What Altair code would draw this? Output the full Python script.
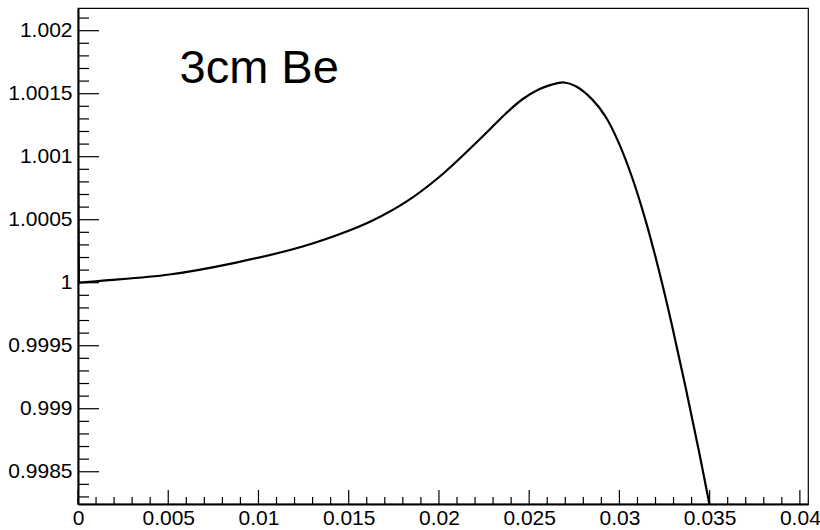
import altair as alt
import pandas as pd

# Curve data
x_vals = [0.0, 0.00005, 0.001373, 0.005066, 0.008760, 0.012447, 0.015033, 0.016323,
          0.018172, 0.020016, 0.021860, 0.022785, 0.023709, 0.024629, 0.025553,
          0.026201, 0.026937, 0.027585, 0.028504, 0.029246, 0.029983, 0.030719,
          0.031461, 0.032198, 0.032934, 0.033676, 0.034413, 0.035149]
y_vals = [1.000863, 1.000000, 1.000016, 1.000065, 1.000160, 1.000287, 1.000414, 1.000493,
          1.000641, 1.000839, 1.001083, 1.001212, 1.001343, 1.001456, 1.001535,
          1.001570, 1.001589, 1.001559, 1.001453, 1.001315, 1.001104, 1.000829,
          1.000489, 1.000093, 0.999649, 0.999165, 0.998659, 0.998124]

x_major = [0, 0.005, 0.01, 0.015, 0.02, 0.025, 0.03, 0.035, 0.04]
x_minor = [i / 1000 for i in range(0, 41) if i % 5 != 0]
y_major = [0.9985, 0.999, 0.9995, 1.0, 1.0005, 1.001, 1.0015, 1.002]
y_minor = [0.9983, 0.9984, 0.9986, 0.9987, 0.9988, 0.9989, 0.9991, 0.9992, 0.9993, 0.9994,
           0.9996, 0.9997, 0.9998, 0.9999, 1.0001, 1.0002, 1.0003, 1.0004, 1.0006, 1.0007,
           1.0008, 1.0009, 1.0011, 1.0012, 1.0013, 1.0014, 1.0016, 1.0017, 1.0018, 1.0019,
           1.0021]
annotation = "3cm Be"

X_DOMAIN = [0, 0.04045]
Y_DOMAIN = [0.998244, 1.00218]
W, H = 730, 496
FONT = "Liberation Sans"

xs = alt.Scale(domain=X_DOMAIN, nice=False, zero=False)
ys = alt.Scale(domain=Y_DOMAIN, nice=False, zero=False)

curve_df = pd.DataFrame({"x": x_vals, "y": y_vals})

x_axis = alt.Axis(
    values=x_major, format="~g", title=None, ticks=False, grid=False,
    domainColor="black", domainWidth=2, labelFont=FONT, labelFontSize=21,
    labelColor="black", labelPadding=3, labelFlush=False, labelOverlap=False)
y_axis = alt.Axis(
    values=y_major, format="~g", title=None, ticks=False, grid=False,
    domainColor="black", domainWidth=2, labelFont=FONT, labelFontSize=21,
    labelColor="black", labelPadding=6, labelFlush=False, labelOverlap=False)

# initial spike at x = 0 (straight segment)
spike = alt.Chart(curve_df.iloc[:2]).mark_line(
    color="black", strokeWidth=2.2, clip=True
).encode(x=alt.X("x:Q", scale=xs, axis=x_axis), y=alt.Y("y:Q", scale=ys, axis=y_axis))

# smooth main curve
curve = alt.Chart(curve_df.iloc[1:]).mark_line(
    color="black", strokeWidth=2.2, clip=True, interpolate="catmull-rom"
).encode(x=alt.X("x:Q", scale=xs), y=alt.Y("y:Q", scale=ys))

ymaj = alt.Chart(pd.DataFrame({"v": y_major})).mark_rule(color="black", strokeWidth=1.2).encode(
    y=alt.Y("v:Q", scale=ys), x=alt.value(0), x2=alt.value(21))
ymin = alt.Chart(pd.DataFrame({"v": y_minor})).mark_rule(color="black", strokeWidth=1.2).encode(
    y=alt.Y("v:Q", scale=ys), x=alt.value(0), x2=alt.value(11))
xmaj = alt.Chart(pd.DataFrame({"v": x_major})).mark_rule(color="black", strokeWidth=1.2).encode(
    x=alt.X("v:Q", scale=xs), y=alt.value(H), y2=alt.value(H - 14))
xmin = alt.Chart(pd.DataFrame({"v": x_minor})).mark_rule(color="black", strokeWidth=1.2).encode(
    x=alt.X("v:Q", scale=xs), y=alt.value(H), y2=alt.value(H - 7))

label = alt.Chart(pd.DataFrame({"t": [annotation]})).mark_text(
    font=FONT, fontSize=47, align="left", baseline="alphabetic", color="black"
).encode(text="t:N", x=alt.value(101.5), y=alt.value(75.3))

chart = alt.layer(spike, curve, ymaj, ymin, xmaj, xmin, label).properties(
    width=W, height=H,
    padding={"left": 78, "top": 8, "right": 12, "bottom": 26},
    autosize=alt.AutoSizeParams(type="none"),
    background="white",
).configure_view(stroke="black", strokeWidth=1.2)

chart.save("out.html", embed_options={"renderer": "svg", "actions": False})
